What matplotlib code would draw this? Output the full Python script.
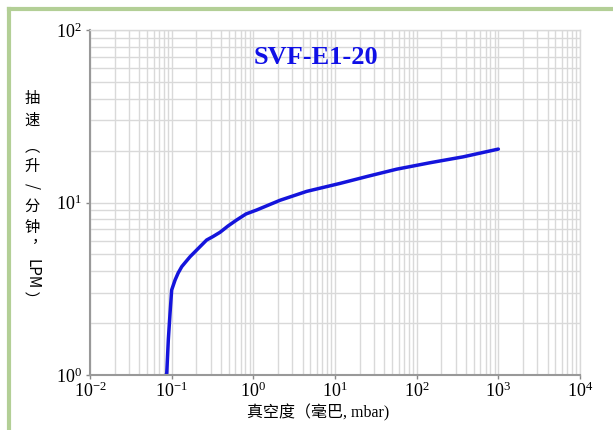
import matplotlib.pyplot as plt
from matplotlib.lines import Line2D
from matplotlib.ticker import LogLocator, NullFormatter

# pumping speed curve
vacuum_mbar = [0.085, 0.087, 0.091, 0.0955, 0.100, 0.110, 0.120, 0.133, 0.150, 0.168,
               0.212, 0.268, 0.321, 0.391, 0.490, 0.625, 0.813, 1.10, 2.12, 4.50,
               11.5, 25.4, 56.9, 145.6, 372, 1000]
speed_lpm = [1.0, 1.02, 1.6, 2.28, 3.11, 3.55, 3.90, 4.25, 4.55, 4.85,
             5.42, 6.06, 6.35, 6.72, 7.31, 7.92, 8.58, 9.05, 10.3, 11.6,
             12.9, 14.2, 15.6, 17.0, 18.4, 20.4]

title = "SVF-E1-20"
xlabel = "真空度（毫巴, mbar)"
ylabel_chars = ["抽", "速", "︵", "升", "/", "分", "钟", "︐", "LPM", "︶"]
ylabel_y = [98, 120, 147, 166, 186, 206, 228, 247, 274, 300]

plt.rcParams['font.family'] = ['Liberation Serif', 'Noto Sans CJK SC', 'DejaVu Sans']
plt.rcParams['mathtext.fontset'] = 'stix'
plt.rcParams['axes.unicode_minus'] = False

W, H = 613, 430
fig = plt.figure(figsize=(W / 100, H / 100), dpi=100)
ax = fig.add_axes([90 / W, 1 - 375 / H, 490 / W, 345 / H])

ax.plot(vacuum_mbar, speed_lpm, color='#1414dc', linewidth=2.5,
        solid_capstyle='round', solid_joinstyle='round')

ax.set_xscale('log')
ax.set_yscale('log')
ax.set_xlim(1e-2, 1e4)
ax.set_ylim(1, 100)

ax.xaxis.set_major_locator(LogLocator(base=10, numticks=10))
ax.xaxis.set_minor_locator(LogLocator(base=10, subs=range(2, 10), numticks=100))
ax.yaxis.set_minor_locator(LogLocator(base=10, subs=range(2, 10), numticks=100))
ax.xaxis.set_minor_formatter(NullFormatter())
ax.yaxis.set_minor_formatter(NullFormatter())

ax.grid(True, which='both', color='#d9d9d9', linewidth=1)
ax.set_axisbelow(True)
ax.tick_params(which='major', length=3, width=1, color='#888888', labelsize=13, pad=3)
ax.tick_params(axis='x', which='major', pad=2)
ax.tick_params(which='minor', length=0)
for side in ['left', 'bottom']:
    ax.spines[side].set_color('#999999')
    ax.spines[side].set_linewidth(1.5)
for side in ['top', 'right']:
    ax.spines[side].set_color('#d9d9d9')
    ax.spines[side].set_linewidth(1)

ax.text(0.462, 0.92, title, transform=ax.transAxes, ha='center', va='center',
        fontsize=19, fontweight='bold', color='#1010e6', family='Liberation Serif')

fig.text(318 / W, 1 - 413 / H, xlabel, ha='center', va='center', fontsize=11.5,
         family=['Liberation Serif', 'Noto Sans CJK SC'])

for ch, yy in zip(ylabel_chars, ylabel_y):
    rot = -90 if ch in ("LPM", "/") else 0
    fig.text(32 / W, 1 - yy / H, ch, ha='center', va='center', fontsize=11,
             rotation=rot, family=['Noto Sans CJK SC', 'Liberation Serif'])

# green frame of the original picture
fig.add_artist(Line2D([8.5 / W, 8.5 / W], [0, 1 - 8.5 / H], transform=fig.transFigure,
                      color='#b3cf96', linewidth=3))
fig.add_artist(Line2D([8.5 / W, 1], [1 - 8.5 / H, 1 - 8.5 / H], transform=fig.transFigure,
                      color='#b3cf96', linewidth=3))

fig.savefig('out.png', dpi=100)
